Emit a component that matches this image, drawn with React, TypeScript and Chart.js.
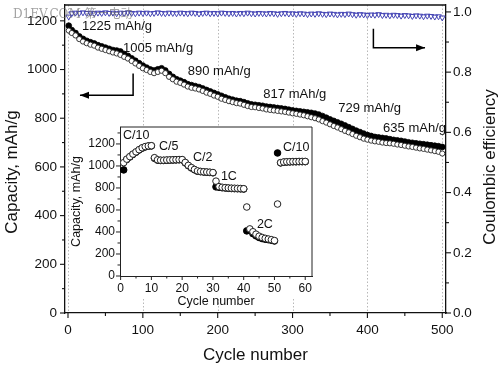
import React, { useEffect, useRef } from 'react';
import { Chart, registerables } from 'chart.js';
Chart.register(...registerables);

const FONT = "'Liberation Sans', Arial, sans-serif";

// ---------------- main plot data ----------------
const cycleNumbers = [1,5,10,15,20,25,30,35,40,45,50,55,60,65,70,75,80,85,90,95,100,105,110,115,120,125,130,135,140,145,150,155,160,165,170,175,180,185,190,195,200,205,210,215,220,225,230,235,240,245,250,255,260,265,270,275,280,285,290,295,300,305,310,315,320,325,330,335,340,345,350,355,360,365,370,375,380,385,390,395,400,405,410,415,420,425,430,435,440,445,450,455,460,465,470,475,480,485,490,495,500];

const dischargeCapacity = [
  1160,1150,1140,1125,1115,1108,1102,1098,1090,1085,1080,
  1075,1070,1066,1060,1052,1045,1035,1025,1015,1005,
  998,990,985,990,995,985,970,960,950,945,
  938,930,925,922,918,912,905,900,893,888,
  880,875,870,866,862,860,855,850,846,845,
  842,840,836,834,832,830,828,826,823,820,
  818,815,812,808,804,800,795,788,782,775,
  768,762,755,748,742,735,728,722,716,712,
  708,705,703,700,698,697,695,692,690,687,
  684,682,679,676,674,671,668,665,662,655
];

const chargeCapacity = [
  1180,1162,1150,1136,1126,1118,1112,1107,1100,1095,1090,
  1085,1080,1078,1074,1064,1056,1046,1036,1026,1016,
  1008,1000,996,1001,1005,996,982,970,960,954,
  948,940,936,932,928,922,916,910,904,898,
  892,886,880,876,872,870,866,861,857,855,
  853,851,848,846,844,842,840,838,835,832,
  830,828,826,824,822,819,815,809,802,795,
  789,783,777,770,763,756,749,743,737,731,
  727,723,721,719,717,714,711,709,707,704,
  701,699,697,695,693,691,689,687,685,682
];

const coulombicEfficiency = [
  0.984,0.995,0.997,0.996,0.998,0.996,0.997,0.995,0.997,0.996,0.998,
  0.996,0.997,0.995,0.997,0.996,0.998,0.996,0.995,0.997,0.996,
  0.997,0.995,0.996,0.998,0.996,0.995,0.997,0.996,0.995,0.997,
  0.996,0.995,0.997,0.996,0.994,0.996,0.997,0.995,0.996,0.995,
  0.997,0.996,0.995,0.996,0.994,0.996,0.995,0.997,0.995,0.994,
  0.996,0.995,0.994,0.996,0.995,0.993,0.995,0.996,0.994,0.995,
  0.993,0.995,0.994,0.992,0.994,0.993,0.995,0.993,0.992,0.994,
  0.993,0.991,0.993,0.992,0.994,0.992,0.990,0.992,0.991,0.989,
  0.991,0.990,0.992,0.989,0.990,0.988,0.990,0.989,0.987,0.989,
  0.988,0.986,0.988,0.987,0.985,0.987,0.986,0.984,0.985,0.981
];

const cycleTicks = [0, 100, 200, 300, 400, 500];
const cycleMinorTicks = [50, 150, 250, 350, 450];
const capacityTicks = [0, 200, 400, 600, 800, 1000, 1200];
const capacityMinorTicks = [100, 300, 500, 700, 900, 1100];
const efficiencyTicks = [0, 0.2, 0.4, 0.6, 0.8, 1.0];
const efficiencyMinorTicks = [0.1, 0.3, 0.5, 0.7, 0.9];

const capacityNotes = ['1225 mAh/g', '1005 mAh/g', '890 mAh/g', '817 mAh/g', '729 mAh/g', '635 mAh/g'];

// ---------------- inset (rate test) data ----------------
const rateCycles = [1,2,3,4,5,6,7,8,9,10,11,12,13,14,15,16,17,18,19,20,21,22,23,24,25,26,27,28,29,30,31,32,33,34,35,36,37,38,39,40,41,42,43,44,45,46,47,48,49,50,51,52,53,54,55,56,57,58,59,60];

const rateDischarge = [
  1030,1062,1085,1108,1128,1148,1165,1176,1182,1184,
  1075,1056,1052,1052,1054,1055,1056,1057,1058,1058,
  1032,1005,985,968,955,950,947,945,943,940,
  862,812,806,803,800,798,797,796,795,793,
  627,428,402,380,362,350,342,336,330,322,
  654,1030,1036,1038,1039,1040,1040,1041,1041,1041
];

const rateCharge = [
  964,1058,1082,1105,1125,1145,1162,1173,1180,1182,
  1070,1053,1050,1050,1052,1053,1054,1055,1056,1056,
  1028,1002,982,965,952,948,945,943,941,938,
  810,806,802,800,797,795,794,793,792,790,
  410,415,385,365,350,340,334,330,325,318,
  1118,1028,1034,1036,1037,1038,1038,1039,1039,1039
];

const rateNotes = ['C/10', 'C/5', 'C/2', '1C', '2C', 'C/10'];
const rateCycleTicks = [0, 10, 20, 30, 40, 50, 60];
const rateCycleMinorTicks = [5, 15, 25, 35, 45, 55];
const rateCapacityTicks = [0, 200, 400, 600, 800, 1000, 1200];
const rateCapacityMinorTicks = [100, 300, 500, 700, 900, 1100, 1300];

// annotation anchors (data coordinates)
const capacityNoteAnchors: [number, number][] = [[18.7, 1176], [73.5, 1086], [160, 992], [261, 898], [361, 841], [421, 759]];
const rateNoteAnchors: [number, number][] = [[0.8, 1273], [12.5, 1173], [23.5, 1073], [32.6, 900], [44.3, 464], [52.8, 1164]];

function drawArrow(ctx: CanvasRenderingContext2D, pts: [number, number][]) {
  ctx.beginPath();
  ctx.moveTo(pts[0][0], pts[0][1]);
  for (let i = 1; i < pts.length; i++) ctx.lineTo(pts[i][0], pts[i][1]);
  ctx.stroke();
  const [x1, y1] = pts[pts.length - 2];
  const [x2, y2] = pts[pts.length - 1];
  const a = Math.atan2(y2 - y1, x2 - x1);
  const L = 9, W = 3.5;
  const c = Math.cos(a), s = Math.sin(a);
  ctx.beginPath();
  ctx.moveTo(x2, y2);
  ctx.lineTo(x2 - L * c + W * s, y2 - L * s - W * c);
  ctx.lineTo(x2 - L * c - W * s, y2 - L * s + W * c);
  ctx.closePath();
  ctx.fill();
}

function tickMarks(ctx: CanvasRenderingContext2D, scale: any, values: number[], len: number, side: 'left' | 'right' | 'bottom', edge: number) {
  values.forEach(v => {
    const p = scale.getPixelForValue(v);
    ctx.beginPath();
    if (side === 'left') { ctx.moveTo(edge, p); ctx.lineTo(edge - len, p); }
    else if (side === 'right') { ctx.moveTo(edge, p); ctx.lineTo(edge + len, p); }
    else { ctx.moveTo(p, edge); ctx.lineTo(p, edge + len); }
    ctx.stroke();
  });
}

function fixV(width: number) {
  return (s: any) => { s.width = width; s.paddingTop = 0; s.paddingBottom = 0; };
}
function fixH(height: number) {
  return (s: any) => { s.height = height; s.paddingLeft = 0; s.paddingRight = 0; };
}

const mainDecor = {
  id: 'mainDecor',
  beforeDatasetsDraw(chart: any) {
    const { ctx, chartArea: a, scales } = chart;
    ctx.save();
    ctx.strokeStyle = '#b8b8b8';
    ctx.lineWidth = 1;
    ctx.setLineDash([1.5, 2]);
    cycleTicks.forEach(v => {
      const px = Math.round(scales.x.getPixelForValue(v)) + 0.5;
      ctx.beginPath(); ctx.moveTo(px, a.top); ctx.lineTo(px, a.bottom); ctx.stroke();
    });
    ctx.restore();
  },
  afterDraw(chart: any) {
    const { ctx, chartArea: a, scales } = chart;
    const { x, y, y1 } = scales;
    ctx.save();
    ctx.strokeStyle = '#111';
    ctx.fillStyle = '#111';
    ctx.lineWidth = 1.3;
    ctx.beginPath(); ctx.moveTo(a.left, a.top); ctx.lineTo(a.right, a.top); ctx.stroke();
    ctx.lineWidth = 1.1;
    tickMarks(ctx, y, capacityTicks, 5, 'left', a.left);
    tickMarks(ctx, y, capacityMinorTicks, 3, 'left', a.left);
    tickMarks(ctx, y1, efficiencyTicks, 5, 'right', a.right);
    tickMarks(ctx, y1, efficiencyMinorTicks, 3, 'right', a.right);
    tickMarks(ctx, x, cycleTicks, 5, 'bottom', a.bottom);
    tickMarks(ctx, x, cycleMinorTicks, 3, 'bottom', a.bottom);

    // axis titles
    ctx.font = `17px ${FONT}`;
    ctx.textAlign = 'center';
    ctx.textBaseline = 'middle';
    ctx.fillText('Cycle number', (a.left + a.right) / 2, 355);
    ctx.save();
    ctx.translate(12, 172); ctx.rotate(-Math.PI / 2);
    ctx.fillText('Capacity, mAh/g', 0, 0);
    ctx.restore();
    ctx.save();
    ctx.translate(490, 167); ctx.rotate(-Math.PI / 2);
    ctx.fillText('Coulombic efficiency', 0, 0);
    ctx.restore();

    // capacity notes
    ctx.font = `13px ${FONT}`;
    ctx.textAlign = 'left';
    capacityNotes.forEach((t, i) => {
      const [cx, cv] = capacityNoteAnchors[i];
      ctx.fillText(t, x.getPixelForValue(cx), y.getPixelForValue(cv));
    });

    // arrows
    ctx.lineWidth = 1.5;
    ctx.strokeStyle = '#000';
    ctx.fillStyle = '#000';
    drawArrow(ctx, [
      [x.getPixelForValue(87), y.getPixelForValue(984)],
      [x.getPixelForValue(87), y.getPixelForValue(894)],
      [x.getPixelForValue(16), y.getPixelForValue(894)],
    ]);
    drawArrow(ctx, [
      [x.getPixelForValue(408), y1.getPixelForValue(0.944)],
      [x.getPixelForValue(408), y1.getPixelForValue(0.881)],
      [x.getPixelForValue(477), y1.getPixelForValue(0.881)],
    ]);

    // watermark
    ctx.font = `12px 'DejaVu Serif', 'Noto Sans CJK SC', serif`;
    ctx.fillStyle = 'rgba(100,100,100,0.6)';
    ctx.textAlign = 'left';
    ctx.fillText('D1EV.COM 第一电动', 13, 15);
    ctx.restore();
  },
};

const insetDecor = {
  id: 'insetDecor',
  beforeDraw(chart: any) {
    const { ctx, chartArea: a } = chart;
    ctx.save();
    ctx.fillStyle = '#fff';
    ctx.fillRect(a.left - 1, a.top, a.right - a.left + 2, a.bottom - a.top + 21);
    ctx.restore();
  },
  afterDraw(chart: any) {
    const { ctx, chartArea: a, scales } = chart;
    const { x, y } = scales;
    ctx.save();
    ctx.strokeStyle = '#222';
    ctx.fillStyle = '#111';
    ctx.lineWidth = 1;
    ctx.beginPath(); ctx.moveTo(a.left, a.top); ctx.lineTo(a.right, a.top); ctx.lineTo(a.right, a.bottom); ctx.stroke();
    tickMarks(ctx, y, rateCapacityTicks, 4, 'left', a.left);
    tickMarks(ctx, y, rateCapacityMinorTicks, 2.5, 'left', a.left);
    tickMarks(ctx, x, rateCycleTicks, 4, 'bottom', a.bottom);
    tickMarks(ctx, x, rateCycleMinorTicks, 2.5, 'bottom', a.bottom);

    ctx.font = `12.5px ${FONT}`;
    ctx.textAlign = 'center';
    ctx.textBaseline = 'middle';
    ctx.fillText('Cycle number', (a.left + a.right) / 2, a.bottom + 26);
    ctx.save();
    ctx.translate(17, (a.top + a.bottom) / 2); ctx.rotate(-Math.PI / 2);
    ctx.fillText('Capacity, mAh/g', 0, 0);
    ctx.restore();

    ctx.font = `12.5px ${FONT}`;
    ctx.textAlign = 'left';
    rateNotes.forEach((t, i) => {
      const [cx, cv] = rateNoteAnchors[i];
      ctx.fillText(t, x.getPixelForValue(cx), y.getPixelForValue(cv));
    });
    ctx.restore();
  },
};

const plainNumber = (v: any) => String(v);

export default function App() {
  const mainRef = useRef<HTMLCanvasElement>(null);
  const insetRef = useRef<HTMLCanvasElement>(null);

  useEffect(() => {
    const tickFont = { family: FONT, size: 13.5 };
    const main = new Chart(mainRef.current as HTMLCanvasElement, {
      type: 'scatter',
      data: {
        datasets: [
          {
            label: 'Discharge',
            data: cycleNumbers.map((c, i) => ({ x: c, y: dischargeCapacity[i] })),
            yAxisID: 'y',
            pointStyle: 'circle',
            pointRadius: 2.6,
            pointBorderWidth: 0.9,
            pointBorderColor: '#222',
            pointBackgroundColor: '#fff',
          },
          {
            label: 'Charge',
            data: cycleNumbers.map((c, i) => ({ x: c, y: chargeCapacity[i] })),
            yAxisID: 'y',
            pointStyle: 'circle',
            pointRadius: 2.9,
            pointBorderWidth: 0.8,
            pointBorderColor: '#000',
            pointBackgroundColor: '#000',
          },
          {
            label: 'Coulombic efficiency',
            data: cycleNumbers.map((c, i) => ({ x: c, y: coulombicEfficiency[i] })),
            yAxisID: 'y1',
            pointStyle: 'triangle',
            rotation: 180,
            pointRadius: 3.3,
            pointBorderWidth: 1,
            pointBorderColor: '#4545b5',
            pointBackgroundColor: 'rgba(255,255,255,0)',
          } as any,
        ],
      },
      options: {
        responsive: false,
        animation: false,
        devicePixelRatio: 1,
        events: [],
        layout: { padding: { top: 3, left: 0, right: 0, bottom: 0 } },
        plugins: { legend: { display: false }, tooltip: { enabled: false } },
        scales: {
          x: {
            type: 'linear',
            min: -4,
            max: 505,
            afterFit: fixH(52),
            afterBuildTicks: (s: any) => { s.ticks = cycleTicks.map(v => ({ value: v })); },
            grid: { display: false, drawTicks: false },
            border: { display: true, color: '#111', width: 1.3 },
            ticks: { font: tickFont, color: '#111', padding: 9, maxRotation: 0, callback: plainNumber },
          },
          y: {
            type: 'linear',
            position: 'left',
            min: 0,
            max: 1265,
            afterFit: fixV(65),
            afterBuildTicks: (s: any) => { s.ticks = capacityTicks.map(v => ({ value: v })); },
            grid: { display: false, drawTicks: false },
            border: { display: true, color: '#111', width: 1.3 },
            ticks: { font: tickFont, color: '#111', padding: 8, callback: plainNumber },
          },
          y1: {
            type: 'linear',
            position: 'right',
            min: 0,
            max: 1.023,
            afterFit: fixV(54),
            afterBuildTicks: (s: any) => { s.ticks = efficiencyTicks.map(v => ({ value: v })); },
            grid: { display: false, drawTicks: false },
            border: { display: true, color: '#111', width: 1.3 },
            ticks: { font: tickFont, color: '#111', padding: 7, callback: (v: any) => Number(v).toFixed(1) },
          },
        },
      } as any,
      plugins: [mainDecor],
    });

    const insetTickFont = { family: FONT, size: 12 };
    const inset = new Chart(insetRef.current as HTMLCanvasElement, {
      type: 'scatter',
      data: {
        datasets: [
          {
            label: 'Discharge',
            data: rateCycles.map((c, i) => ({ x: c, y: rateDischarge[i] })),
            pointStyle: 'circle',
            pointRadius: 3.3,
            pointBorderWidth: 1,
            pointBorderColor: '#222',
            pointBackgroundColor: '#fff',
          },
          {
            label: 'Charge',
            data: rateCycles.map((c, i) => ({ x: c, y: rateCharge[i] })),
            pointStyle: 'circle',
            pointRadius: 3.3,
            pointBorderWidth: 1,
            pointBorderColor: '#000',
            pointBackgroundColor: '#000',
          },
        ],
      },
      options: {
        responsive: false,
        animation: false,
        devicePixelRatio: 1,
        events: [],
        layout: { padding: { top: 7, left: 0, right: 8, bottom: 0 } },
        plugins: { legend: { display: false }, tooltip: { enabled: false } },
        scales: {
          x: {
            type: 'linear',
            min: -0.2,
            max: 62.2,
            afterFit: fixH(34),
            afterBuildTicks: (s: any) => { s.ticks = rateCycleTicks.map(v => ({ value: v })); },
            grid: { display: false, drawTicks: false },
            border: { display: true, color: '#222', width: 1 },
            ticks: { font: insetTickFont, color: '#111', padding: 5, maxRotation: 0, callback: plainNumber },
          },
          y: {
            type: 'linear',
            min: 0,
            max: 1354,
            afterFit: fixV(60),
            afterBuildTicks: (s: any) => { s.ticks = rateCapacityTicks.map(v => ({ value: v })); },
            grid: { display: false, drawTicks: false },
            border: { display: true, color: '#222', width: 1 },
            ticks: { font: insetTickFont, color: '#111', padding: 5, callback: plainNumber },
          },
        },
      } as any,
      plugins: [insetDecor],
    });

    return () => { main.destroy(); inset.destroy(); };
  }, []);

  return (
    <div style={{ position: 'fixed', left: 0, top: 0, width: 500, height: 365, background: '#fff' }}>
      <canvas ref={mainRef} width={500} height={365} style={{ position: 'absolute', left: 0, top: 0, width: 500, height: 365 }} />
      <canvas ref={insetRef} width={260} height={190} style={{ position: 'absolute', left: 60, top: 120, width: 260, height: 190 }} />
    </div>
  );
}
